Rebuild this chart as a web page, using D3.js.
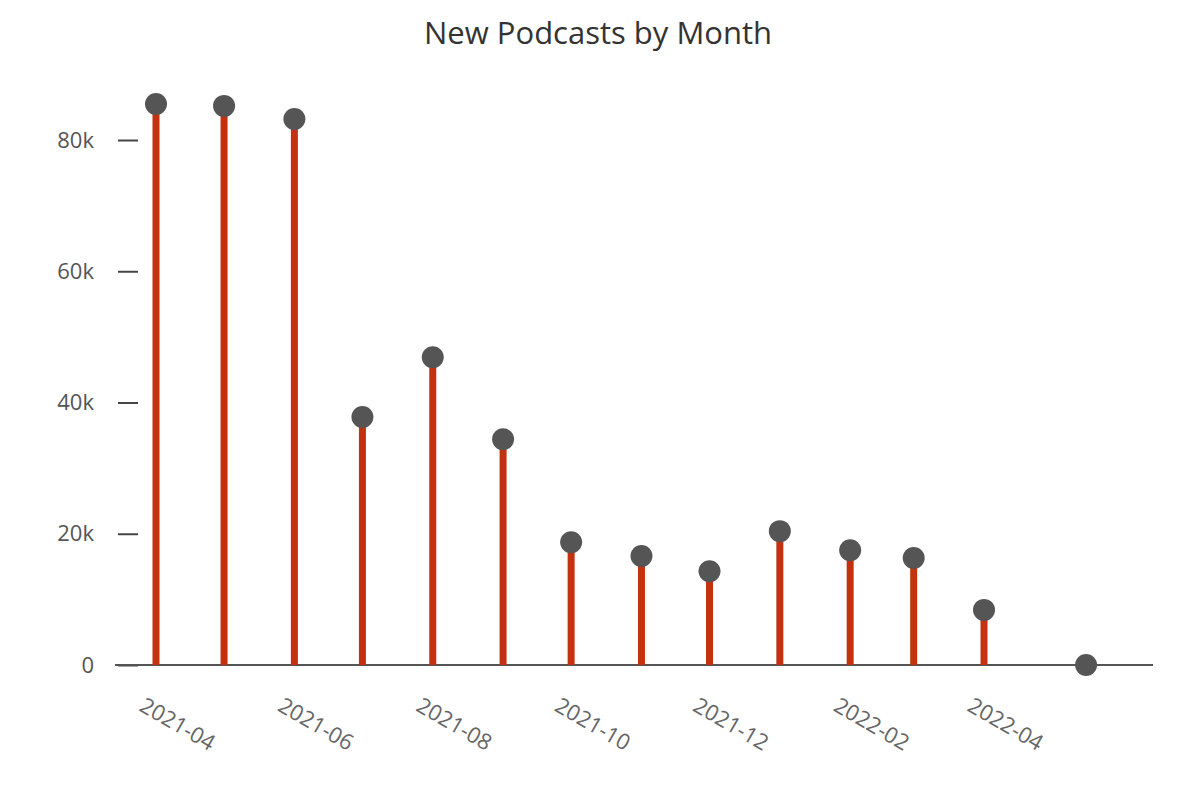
<!DOCTYPE html>
<html><head><meta charset="utf-8">
<script src="https://cdn.jsdelivr.net/npm/d3@7"></script>
<style>body{margin:0;background:#fff}</style></head>
<body><svg id="c" width="1200" height="794"></svg>
<script>
const dates = ["2021-04-01","2021-05-01","2021-06-01","2021-07-01","2021-08-01","2021-09-01","2021-10-01","2021-11-01","2021-12-01","2022-01-01","2022-02-01","2022-03-01","2022-04-01","2022-05-16"];
const values = [85500,85200,83200,37800,46900,34400,18700,16600,14300,20400,17500,16300,8400,0];
const yTicks = [0,20000,40000,60000,80000];
const xTickLabels = ["2021-04","2021-06","2021-08","2021-10","2021-12","2022-02","2022-04"];

const parse = d3.timeParse("%Y-%m-%d");
const svg = d3.select("#c");
const font = "'Segoe UI','Open Sans',sans-serif";
const x = d3.scaleTime().domain([parse("2021-04-01"), parse("2022-04-01")]).range([156, 984]);
const y = d3.scaleLinear().domain([0, 80000]).range([665, 140]);

svg.append("text").attr("x",598).attr("y",44).attr("text-anchor","middle")
  .attr("font-family",font).attr("font-size",31).attr("fill","#333").text("New Podcasts by Month");

// y axis
const ya = svg.append("g").attr("transform","translate(138,0)")
  .call(d3.axisLeft(y).tickValues(yTicks).tickSize(20).tickPadding(24).tickFormat(d=>d===0?"0":d/1000+"k"));
ya.select(".domain").remove();
ya.selectAll("line").attr("stroke","#444").attr("stroke-width",2);
ya.selectAll("text").attr("font-family",font).attr("font-size",22).attr("fill","#555");

// x axis line
svg.append("line").attr("x1",115).attr("x2",1153).attr("y1",y(0)).attr("y2",y(0)).attr("stroke","#555").attr("stroke-width",2);

// x labels
svg.append("g").selectAll("text").data(xTickLabels).join("text")
  .attr("transform", d => `translate(${x(parse(d+"-01"))-18},${y(0)+45}) rotate(30)`)
  .attr("font-family",font).attr("font-size",22).attr("fill","#666").text(d=>d);

const data = dates.map((d,i)=>({date:parse(d), v:values[i]}));
svg.append("g").selectAll("line").data(data).join("line")
  .attr("x1",d=>x(d.date)).attr("x2",d=>x(d.date)).attr("y1",y(0)).attr("y2",d=>y(d.v))
  .attr("stroke","#c4310e").attr("stroke-width",7);
svg.append("g").selectAll("circle").data(data).join("circle")
  .attr("cx",d=>x(d.date)).attr("cy",d=>y(d.v)).attr("r",11).attr("fill","#555");
</script></body></html>
